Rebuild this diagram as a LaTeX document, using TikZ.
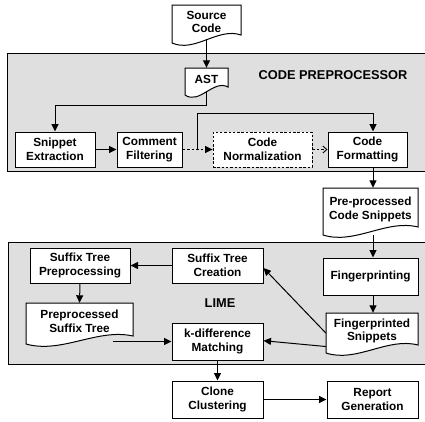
\documentclass[tikz,border=0pt]{standalone}
\usepackage{fontspec}
\setmainfont{Liberation Sans}
\usetikzlibrary{arrows.meta,calc}
\newcommand{\docnode}[6]{%
  \path[docline] ({#2-#4/2},{#3-#5/2}) -- ({#2+#4/2},{#3-#5/2}) -- ({#2+#4/2},{#3+#5/2-4})
    .. controls ({#2+#4/2-#4/3},{#3+#5/2-12}) and ({#2-#4/2+#4/3},{#3+#5/2+14}) .. ({#2-#4/2},{#3+#5/2+4}) -- cycle;
  \node[doctext, minimum width=#4pt, minimum height=#5pt] (#1) at (#2,#3) {#6};}
\begin{document}
\begin{tikzpicture}[x=1pt,y=-1pt,
  every node/.style={font=\fontsize{11.8}{13.5}\selectfont\bfseries, align=center, inner sep=0pt},
  box/.style={draw, line width=1pt, fill=white},
  dbox/.style={draw, line width=0.9pt, fill=white, dash pattern=on 2.5pt off 1.8pt},
  docline/.style={draw, line width=1pt, fill=white},
  doctext/.style={},
  panel/.style={draw, line width=1pt, fill=gray!25},
  lbl/.style={font=\fontsize{12.8}{14}\selectfont\bfseries},
  arr/.style={line width=1pt, -{Triangle[length=7.5pt,width=7pt]}},
  darr/.style={line width=0.9pt, dash pattern=on 2.5pt off 2pt, -{Triangle[length=7.5pt,width=7pt]}},
  oarr/.style={line width=0.9pt, dash pattern=on 2.5pt off 2pt, -{Straight Barb[length=4pt,width=7pt]}}
]
\useasboundingbox (0,0) rectangle (425,421);
% panels
\path[panel] (7,53) rectangle (432,171);
\path[panel] (8,242) rectangle (432,364);
\node[lbl] (cpl) at (333,75) {CODE PREPROCESSOR};
\node[lbl] (liml) at (220,303) {LIME};
% documents
\docnode{src}{206.5}{22}{69}{34}{Source\\Code}
\docnode{ast}{206.5}{79.5}{43}{23}{AST}
\docnode{pre}{370.5}{209.5}{95}{43}{Pre-processed\\Code Snippets}
\docnode{fsnip}{372}{331}{92}{36}{Fingerprinted\\Snippets}
\docnode{pst}{79.5}{321.5}{107}{37}{Preprocessed\\Suffix Tree}
% boxes
\node[box, minimum width=80pt, minimum height=35pt] (snip) at (55,149.5) {Snippet\\Extraction};
\node[box, minimum width=65pt, minimum height=35pt] (comm) at (149.5,149.5) {Comment\\Filtering};
\node[dbox, minimum width=99pt, minimum height=35pt] (norm) at (262.5,149.5) {Code\\Normalization};
\node[box, minimum width=79pt, minimum height=35pt] (fmt) at (367.5,149.5) {Code\\Formatting};
\node[box, minimum width=100pt, minimum height=35pt] (stp) at (80,265.5) {Suffix Tree\\Preprocessing};
\node[box, minimum width=91pt, minimum height=35pt] (stc) at (217.5,265.5) {Suffix Tree\\Creation};
\node[box, minimum width=95pt, minimum height=37pt] (fing) at (370.5,276.5) {Fingerprinting};
\node[box, minimum width=91pt, minimum height=37pt] (kdm) at (217.5,341.5) {k-difference\\Matching};
\node[box, minimum width=91pt, minimum height=37pt] (clone) at (217.5,399.5) {Clone\\Clustering};
\node[box, minimum width=91pt, minimum height=37pt] (rep) at (372.5,399.5) {Report\\Generation};
% helper coordinates
\coordinate (colx) at (373,0);
\coordinate (br) at (197,149.5);
\coordinate (brk) at (197,113);
% connectors
\draw[arr] (src.south) -- (ast.north);
\draw[arr] (ast.south) -- ++(0,14) -| (snip.north);
\draw[arr] (snip) -- (comm);
\draw[darr] (comm.east) -- (norm.west);
\draw[line width=1pt] (br) -- (brk);
\draw[arr] (brk) -| (fmt.north -| colx);
\draw[oarr] (norm.east) -- (fmt.west);
\draw[arr] (fmt.south -| colx) -- (pre.north -| colx);
\draw[arr] ([yshift=-4pt]pre.south -| colx) -- (fing.north -| colx);
\draw[arr] (fing.south -| colx) -- (fsnip.north -| colx);
\draw[arr] (stc.west) -- (stp.east);
\draw[arr] (stp.south) -- (pst.north);
\draw[arr] ([xshift=-20pt]pst.south east |- kdm.west) -- (kdm.west);
\draw[arr] ([yshift=-2pt]fsnip.west) -- ([yshift=-2.5pt]stc.east);
\draw[arr] ([yshift=-15.5pt]fsnip.west) -- ([yshift=0.8pt]kdm.east);
\draw[arr] (kdm.south) -- (clone.north);
\draw[arr] (clone) -- (rep);
\end{tikzpicture}
\end{document}
